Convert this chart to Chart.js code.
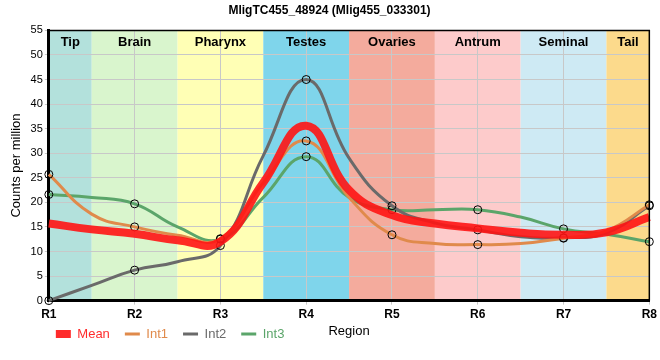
<!DOCTYPE html>
<html>
<head>
<meta charset="utf-8">
<script src="https://cdn.jsdelivr.net/npm/chart.js@4"></script>
<style>
  html, body { margin: 0; padding: 0; background: #fff; }
  #wrap { width: 660px; height: 360px; }
</style>
</head>
<body>
<div id="wrap"><canvas id="regionChart" width="660" height="360"></canvas></div>
<script>
// positions along the body, R1..R8 with half steps between
var positions = [1, 1.5, 2, 2.5, 3, 3.5, 4, 4.5, 5, 5.5, 6, 6.5, 7, 7.5, 8];
var tickLabels = ['R1', 'R2', 'R3', 'R4', 'R5', 'R6', 'R7', 'R8'];

var meanValues = [15.7, 14.5, 13.6, 12.3, 12.0, 24.0, 35.6, 22.5, 17.4, 15.7, 14.7, 13.8, 13.4, 13.9, 17.0];
var int1Values = [25.7, 17.6, 15.0, 13.3, 12.6, 24.0, 32.5, 21.0, 13.4, 11.6, 11.4, 11.6, 12.7, 14.2, 19.5];
var int2Values = [0.0, 3.1, 6.2, 7.9, 11.2, 29.5, 45.0, 29.0, 19.3, 15.8, 14.4, 13.0, 12.8, 13.8, 19.3];
var int3Values = [21.6, 21.0, 19.7, 15.0, 12.5, 21.0, 29.3, 21.0, 18.5, 18.5, 18.5, 17.0, 14.6, 13.5, 12.0];

// tissue bands: name, start, end
var regionNames = ['Tip', 'Brain', 'Pharynx', 'Testes', 'Ovaries', 'Antrum', 'Seminal', 'Tail'];
var regionStarts = [1, 1.5, 2.5, 3.5, 4.5, 5.5, 6.5, 7.5];
var regionEnds = [1.5, 2.5, 3.5, 4.5, 5.5, 6.5, 7.5, 8];
var regionColors = ['#b3e1dc', '#d9f5cd', '#ffffb5', '#7fd5eb', '#f4ab9d', '#fdcbcb', '#ceeaf4', '#fcda8c'];

var FONT = '"Liberation Sans", Arial, sans-serif';

function toPoints(vals) {
    return vals.map(function(v, i) { return {x: positions[i], y: v}; });
}

// only whole regions get a marker
function markerRadius(ctx) {
    var p = ctx.raw;
    return p && Number.isInteger(p.x) ? 4 : 0;
}

var bandPlugin = {
    id: 'bands',
    afterLayout: function(chart) {
        // legend row starts under the plot and shares its line with the axis title
        var lg = chart.legend, h = lg.height;
        lg.left = chart.chartArea.left - 8;
        lg.top = chart.chartArea.bottom + 31 - h / 2;
        lg.bottom = lg.top + h;
    },
    beforeDraw: function(chart) {
        var c = chart.ctx, area = chart.chartArea, xs = chart.scales.x;
        c.save();
        for (var i = 0; i < regionNames.length; i++) {
            var x0 = xs.getPixelForValue(regionStarts[i]);
            var x1 = xs.getPixelForValue(regionEnds[i]);
            c.fillStyle = regionColors[i];
            c.fillRect(x0, area.top, x1 - x0, area.bottom - area.top);
        }
        c.restore();
    },
    beforeDatasetsDraw: function(chart) {
        var c = chart.ctx, area = chart.chartArea, xs = chart.scales.x;
        c.save();
        c.font = 'bold 13px ' + FONT;
        c.fillStyle = '#000';
        c.textAlign = 'center';
        c.textBaseline = 'middle';
        for (var i = 0; i < regionNames.length; i++) {
            var mid = (xs.getPixelForValue(regionStarts[i]) + xs.getPixelForValue(regionEnds[i])) / 2;
            c.fillText(regionNames[i], mid, area.top + 12);
        }
        c.restore();
    },
    afterDraw: function(chart) {
        var c = chart.ctx, area = chart.chartArea;
        c.save();
        c.strokeStyle = '#000';
        c.lineWidth = 1.5;
        c.beginPath();
        c.moveTo(area.left, area.top);
        c.lineTo(area.right, area.top);
        c.lineTo(area.right, area.bottom);
        c.stroke();
        var lg = chart.legend;
        c.font = '13px ' + FONT;
        c.fillStyle = '#000';
        c.textAlign = 'center';
        c.textBaseline = 'middle';
        c.fillText('Region', (area.left + area.right) / 2, lg.top + lg.height / 2);
        c.restore();
    }
};

function lineSet(label, vals, color, width, marked) {
    return {
        label: label,
        data: toPoints(vals),
        borderColor: color,
        backgroundColor: color,
        borderWidth: width,
        pointRadius: marked ? markerRadius : 0,
        pointBorderColor: '#000',
        pointBackgroundColor: 'rgba(0,0,0,0)',
        pointBorderWidth: 1,
        tension: 0.45
    };
}

var ctx = document.getElementById('regionChart').getContext('2d');
var chart = new Chart(ctx, {
    type: 'line',
    data: {
        datasets: [
            lineSet('Mean', meanValues, 'rgba(255, 20, 20, 0.9)', 8, false),
            lineSet('Int1', int1Values, '#e08a4b', 3, true),
            lineSet('Int2', int2Values, '#6a6a6a', 3, true),
            lineSet('Int3', int3Values, '#5ba56a', 3, true)
        ]
    },
    options: {
        responsive: false,
        animation: false,
        clip: false,
        layout: { padding: { left: 9, right: 10, top: 0, bottom: -3 } },
        scales: {
            x: {
                type: 'linear',
                min: 1,
                max: 8,
                afterBuildTicks: function(axis) {
                    axis.ticks = tickLabels.map(function(_, i) { return {value: i + 1}; });
                },
                ticks: {
                    color: '#000',
                    font: { family: FONT, size: 12, weight: 'bold' },
                    callback: function(v) { return tickLabels[v - 1]; },
                    maxRotation: 0,
                    padding: 3
                },
                grid: { color: '#c8c8c8', lineWidth: 1, tickLength: 4 },
                border: { color: '#000', width: 3 }
            },
            y: {
                min: 0,
                max: 55,
                ticks: {
                    stepSize: 5,
                    color: '#000',
                    font: { family: FONT, size: 11 },
                    padding: 2
                },
                grid: { color: '#c8c8c8', lineWidth: 1, tickLength: 4 },
                border: { color: '#000', width: 3 },
                title: {
                    display: true,
                    text: 'Counts per million',
                    color: '#000',
                    font: { family: FONT, size: 13 },
                    padding: { top: 0, bottom: 4 }
                }
            }
        },
        plugins: {
            title: {
                display: true,
                text: 'MligTC455_48924 (Mlig455_033301)',
                color: '#000',
                font: { family: FONT, size: 12, weight: 'bold' },
                padding: { top: 3, bottom: 13 }
            },
            legend: {
                display: true,
                position: 'bottom',
                align: 'start',
                labels: {
                    usePointStyle: true,
                    pointStyle: 'line',
                    pointStyleWidth: 15,
                    boxWidth: 15,
                    padding: 15,
                    font: { family: FONT, size: 13 },
                    generateLabels: function(chart) {
                        var items = Chart.defaults.plugins.legend.labels.generateLabels(chart);
                        items.forEach(function(it) {
                            var ds = chart.data.datasets[it.datasetIndex];
                            it.fontColor = ds.borderColor;
                            it.strokeStyle = ds.borderColor;
                            it.lineWidth = ds.borderWidth;
                        });
                        return items;
                    }
                }
            },
            tooltip: { enabled: false }
        }
    },
    plugins: [bandPlugin]
});
</script>
</body>
</html>
